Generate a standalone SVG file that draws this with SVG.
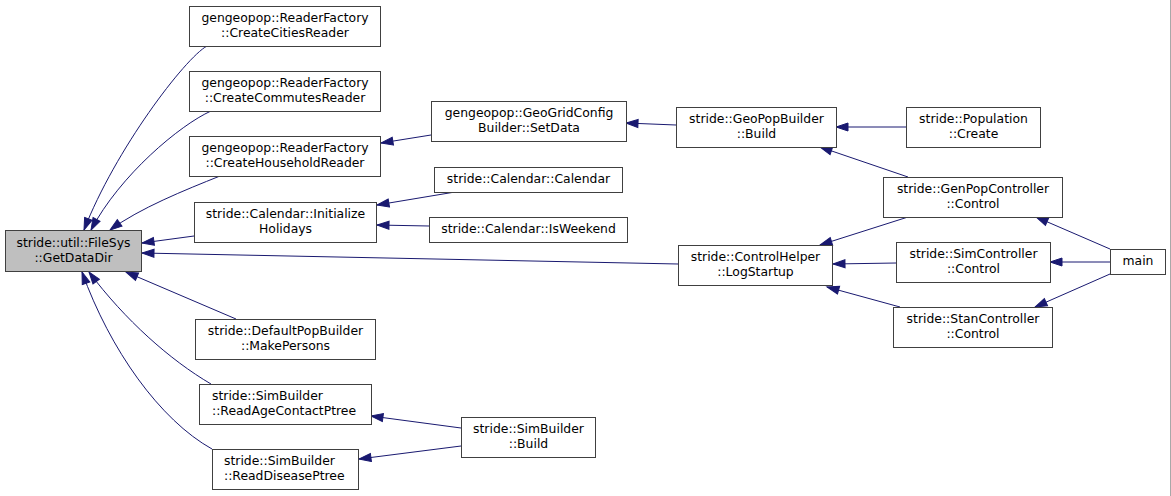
<svg xmlns="http://www.w3.org/2000/svg" width="1171" height="496" viewBox="0 0 1171 496">
<style>
.nd rect{fill:#ffffff;stroke:#404040;stroke-width:1}
.nd.root rect{fill:#bfbfbf}
.nd text{font-family:"DejaVu Sans",sans-serif;font-size:12.4px;fill:#000000;text-anchor:middle}
.nd.la text{text-anchor:start}
.ed path{fill:none;stroke:#191970;stroke-width:1;marker-end:url(#ah)}
</style>
<defs>
<marker id="ah" markerUnits="userSpaceOnUse" markerWidth="14" markerHeight="10" refX="12" refY="4" orient="auto" overflow="visible">
<path d="M0,0 L12,4 L0,8 z" fill="#191970" stroke="#191970" stroke-width="1"/>
</marker>
</defs>
<rect x="0" y="0" width="1171" height="496" fill="#ffffff"/>
<line x1="1170.5" y1="0" x2="1170.5" y2="496" stroke="#a8a8a8" stroke-width="1"/>
<g id="edges" class="ed">
<path d="M207,46 C185,58 115,150 84,230"/>
<path d="M211,111 C180,125 120,175 91,230"/>
<path d="M220,176 C185,190 140,208 110,230"/>
<path d="M194,236 L142,243"/>
<path d="M678,264 L142,253"/>
<path d="M236,319 L126,272"/>
<path d="M211,384 C170,360 125,320 89,272"/>
<path d="M212,449 C160,420 110,350 82,272"/>
<path d="M431,135 L381,143"/>
<path d="M676,125 L626,123"/>
<path d="M906,127 L836,127"/>
<path d="M908,177 L820,147"/>
<path d="M455,192 L377,205"/>
<path d="M429,226 L377,225"/>
<path d="M908,217 L820,245"/>
<path d="M896,263 L833,264"/>
<path d="M900,307 L827,287"/>
<path d="M1110,249 L1036,217"/>
<path d="M1110,262 L1050,262"/>
<path d="M1110,274 L1035,307"/>
<path d="M461,428 L371,416"/>
<path d="M461,446 L359,459"/>
</g>
<g id="n_filesys" class="nd root"><rect x="5.5" y="230.5" width="136" height="41"/><text x="73.5" y="247">stride::util::FileSys</text><text x="73.5" y="262">::GetDataDir</text></g>
<g id="n_cities" class="nd"><rect x="189.5" y="6.5" width="191" height="40"/><text x="285" y="22">gengeopop::ReaderFactory</text><text x="285" y="37">::CreateCitiesReader</text></g>
<g id="n_commutes" class="nd"><rect x="189.5" y="71.5" width="191" height="40"/><text x="285" y="87">gengeopop::ReaderFactory</text><text x="285" y="102">::CreateCommutesReader</text></g>
<g id="n_household" class="nd"><rect x="189.5" y="136.5" width="191" height="40"/><text x="285" y="152">gengeopop::ReaderFactory</text><text x="285" y="167">::CreateHouseholdReader</text></g>
<g id="n_holidays" class="nd"><rect x="194.5" y="202.5" width="182" height="40"/><text x="285.5" y="218">stride::Calendar::Initialize</text><text x="285.5" y="233">Holidays</text></g>
<g id="n_makepersons" class="nd"><rect x="195.5" y="319.5" width="180" height="40"/><text x="285.5" y="335">stride::DefaultPopBuilder</text><text x="285.5" y="350">::MakePersons</text></g>
<g id="n_readage" class="nd la"><rect x="199.5" y="384.5" width="172" height="40"/><text x="212" y="400">stride::SimBuilder</text><text x="212" y="415">::ReadAgeContactPtree</text></g>
<g id="n_readdisease" class="nd la"><rect x="212.5" y="449.5" width="146" height="40"/><text x="224" y="465">stride::SimBuilder</text><text x="224" y="480">::ReadDiseasePtree</text></g>
<g id="n_setdata" class="nd"><rect x="431.5" y="101.5" width="195" height="40"/><text x="529" y="117">gengeopop::GeoGridConfig</text><text x="529" y="132">Builder::SetData</text></g>
<g id="n_calendar" class="nd"><rect x="434.5" y="167.5" width="188" height="25"/><text x="528.5" y="183">stride::Calendar::Calendar</text></g>
<g id="n_isweekend" class="nd"><rect x="429.5" y="217.5" width="198" height="25"/><text x="528.5" y="233">stride::Calendar::IsWeekend</text></g>
<g id="n_simbuild" class="nd"><rect x="461.5" y="417.5" width="134" height="40"/><text x="528.5" y="433">stride::SimBuilder</text><text x="528.5" y="448">::Build</text></g>
<g id="n_geopop" class="nd"><rect x="676.5" y="107.5" width="160" height="40"/><text x="756.5" y="123">stride::GeoPopBuilder</text><text x="756.5" y="138">::Build</text></g>
<g id="n_logstartup" class="nd"><rect x="678.5" y="245.5" width="154" height="40"/><text x="755.5" y="261">stride::ControlHelper</text><text x="755.5" y="276">::LogStartup</text></g>
<g id="n_population" class="nd"><rect x="906.5" y="107.5" width="134" height="40"/><text x="973.5" y="123">stride::Population</text><text x="973.5" y="138">::Create</text></g>
<g id="n_genpop" class="nd"><rect x="883.5" y="177.5" width="179" height="40"/><text x="973" y="193">stride::GenPopController</text><text x="973" y="208">::Control</text></g>
<g id="n_simcontrol" class="nd"><rect x="896.5" y="242.5" width="154" height="40"/><text x="973.5" y="258">stride::SimController</text><text x="973.5" y="273">::Control</text></g>
<g id="n_stancontrol" class="nd"><rect x="893.5" y="307.5" width="159" height="40"/><text x="973" y="323">stride::StanController</text><text x="973" y="338">::Control</text></g>
<g id="n_main" class="nd"><rect x="1110.5" y="249.5" width="55" height="25"/><text x="1138" y="265">main</text></g>
</svg>
